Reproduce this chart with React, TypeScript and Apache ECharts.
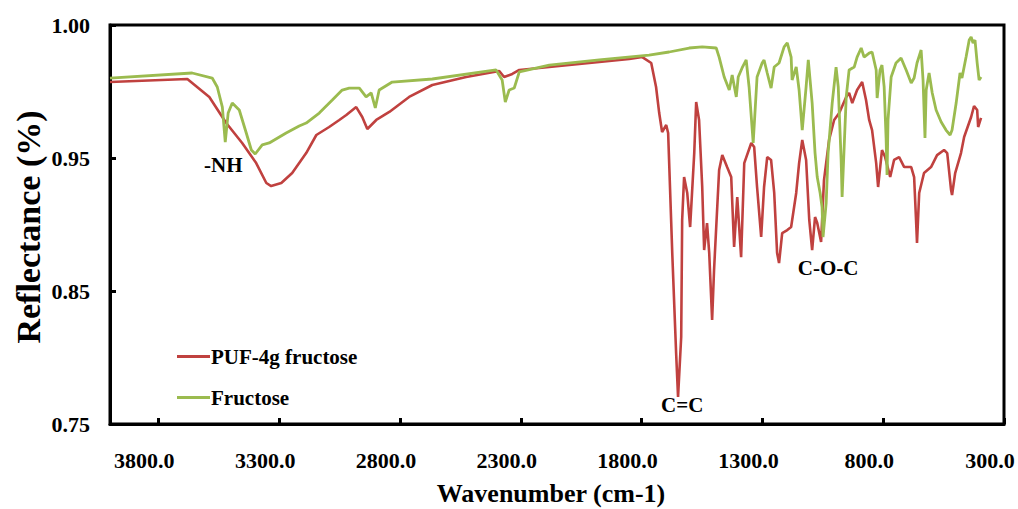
import React, { useEffect, useRef } from "react";
import * as echarts from "echarts";

const X_TICKS = [3800, 3300, 2800, 2300, 1800, 1300, 800, 300];
const Y_TICK_LABELS = ["0.75", "0.85", "0.95", "1.00"];
const SERIES_NAMES = ["PUF-4g fructose", "Fructose"];
const COLORS = ["#C0413F", "#9BBB4F"];

const PUF_DATA: [number, number][] = [
  [4000, 1.0071], [3680, 1.0094], [3589, 0.9959], [3519, 0.9763], [3453, 0.9613], [3395, 0.9462], [3353, 0.9312], [3333, 0.9289], [3291, 0.9312], [3246, 0.9387], [3188, 0.9537], [3146, 0.9673], [3093, 0.9733], [3051, 0.9786], [3022, 0.9823], [2981, 0.9883], [2956, 0.9808], [2935, 0.9718], [2898, 0.9786], [2844, 0.9846], [2762, 0.9959], [2666, 1.0049], [2526, 1.0109], [2389, 1.0154], [2369, 1.0109], [2335, 1.0132], [2306, 1.0162], [2182, 1.0184], [1975, 1.0222], [1851, 1.0244], [1797, 1.0259], [1760, 1.0214], [1740, 1.0034], [1727, 0.9838], [1715, 0.9695], [1698, 0.9748], [1690, 0.9688], [1673, 0.8785], [1657, 0.8034], [1649, 0.7703], [1636, 0.8154], [1632, 0.9034], [1624, 0.9357], [1611, 0.9237], [1599, 0.8981], [1582, 0.9537], [1574, 0.9921], [1562, 0.9786], [1549, 0.9282], [1541, 0.8808], [1529, 0.9011], [1520, 0.8785], [1508, 0.8282], [1500, 0.8658], [1479, 0.941], [1466, 0.9522], [1446, 0.9432], [1429, 0.9357], [1417, 0.8831], [1404, 0.9207], [1388, 0.8755], [1375, 0.9462], [1346, 0.9613], [1334, 0.9583], [1322, 0.9282], [1305, 0.8906], [1293, 0.9282], [1280, 0.9507], [1264, 0.9485], [1251, 0.9237], [1239, 0.8785], [1231, 0.871], [1218, 0.8936], [1197, 0.8958], [1181, 0.8981], [1160, 0.9237], [1148, 0.9462], [1135, 0.9635], [1119, 0.9485], [1106, 0.9034], [1094, 0.8808], [1082, 0.9056], [1073, 0.9011], [1057, 0.8868], [1045, 0.9334], [1024, 0.9635], [1003, 0.9786], [982, 0.9838], [953, 0.9959], [941, 0.9989], [928, 0.9913], [908, 1.0011], [887, 1.0071], [871, 0.9936], [858, 0.9786], [846, 0.971], [829, 0.9462], [821, 0.9282], [805, 0.956], [792, 0.9507], [771, 0.9357], [755, 0.9485], [734, 0.9507], [713, 0.9432], [684, 0.9432], [672, 0.9357], [664, 0.9034], [660, 0.8861], [651, 0.9237], [631, 0.9387], [602, 0.9432], [577, 0.9522], [548, 0.956], [535, 0.9537], [519, 0.9259], [515, 0.9222], [502, 0.9387], [478, 0.9537], [465, 0.9658], [436, 0.9808], [424, 0.9891], [411, 0.9861], [407, 0.9733], [395, 0.9801],
];

const FRUCTOSE_DATA: [number, number][] = [
  [4000, 1.0101], [3660, 1.0139], [3577, 1.0101], [3556, 1.0034], [3535, 0.9883], [3523, 0.962], [3511, 0.9838], [3494, 0.9913], [3465, 0.9861], [3436, 0.9688], [3415, 0.956], [3399, 0.953], [3370, 0.9598], [3341, 0.9613], [3271, 0.9688], [3217, 0.9741], [3188, 0.9763], [3134, 0.9838], [3080, 0.9936], [3039, 1.0011], [3010, 1.0026], [2968, 1.0026], [2940, 0.9959], [2919, 0.9989], [2902, 0.9876], [2886, 1.0011], [2832, 1.0071], [2666, 1.0094], [2402, 1.0162], [2377, 1.0086], [2364, 0.9921], [2348, 1.0011], [2327, 1.0026], [2306, 1.0147], [2182, 1.0199], [1975, 1.0237], [1769, 1.0274], [1686, 1.0297], [1603, 1.0327], [1549, 1.0335], [1491, 1.0327], [1479, 1.0259], [1458, 1.0109], [1437, 1.0011], [1425, 1.0124], [1408, 0.9959], [1400, 1.0109], [1384, 1.0177], [1367, 1.0237], [1355, 1.0034], [1338, 0.9613], [1322, 1.0109], [1301, 1.0214], [1293, 1.0237], [1280, 1.0139], [1264, 1.0026], [1251, 1.0184], [1231, 1.0214], [1210, 1.0335], [1197, 1.0365], [1181, 1.0259], [1177, 1.0086], [1160, 1.0184], [1148, 1.0011], [1135, 0.971], [1119, 1.0034], [1110, 1.0237], [1094, 0.9913], [1082, 0.9537], [1073, 0.9357], [1061, 0.9237], [1053, 0.9131], [1049, 0.8906], [1036, 0.9161], [1028, 0.9537], [1011, 0.9913], [995, 1.0184], [986, 1.0034], [974, 0.9485], [970, 0.9207], [953, 0.9959], [941, 1.0162], [920, 1.0184], [908, 1.0259], [891, 1.0327], [879, 1.0259], [858, 1.0289], [846, 1.0297], [829, 1.0162], [825, 0.9951], [813, 1.0162], [805, 1.0199], [796, 1.0034], [788, 0.965], [784, 0.9372], [780, 0.9786], [767, 1.0109], [747, 1.0214], [726, 1.0252], [705, 1.0162], [684, 1.0064], [672, 1.0101], [660, 1.0214], [643, 1.0312], [635, 1.0086], [627, 0.965], [622, 1.0011], [610, 1.0139], [597, 0.9989], [581, 0.9861], [560, 0.9771], [540, 0.971], [523, 0.9673], [515, 0.971], [498, 0.9913], [482, 1.0139], [474, 1.0101], [457, 1.0259], [444, 1.0387], [436, 1.041], [428, 1.0365], [420, 1.0387], [411, 1.0214], [403, 1.0086], [395, 1.0109],
];

const ANNOTATIONS: { text: string; coord: [number, number] }[] = [
  { text: "-NH", coord: [3531, 0.9447] },
  { text: "C=C", coord: [1632, 0.7643] },
  { text: "C-O-C", coord: [1028, 0.8673] },
];

const FONT = "Liberation Serif";

export default function App() {
  const ref = useRef<HTMLDivElement>(null);
  useEffect(() => {
    document.body.style.margin = "0";
    if (!ref.current) return;
    const chart = echarts.init(ref.current, undefined, { renderer: "svg" });
    const labelStyle = { fontFamily: FONT, fontWeight: "bold" as const, color: "#000" };
    chart.setOption({
      animation: false,
      backgroundColor: "#fff",
      grid: { left: 110, right: 14, top: 25, bottom: 85, show: true, borderColor: "#000", borderWidth: 3 },
      legend: {
        orient: "vertical",
        left: 172,
        top: 341,
        icon: "rect",
        itemWidth: 33,
        itemHeight: 3,
        itemGap: 20,
        textStyle: { ...labelStyle, fontSize: 21, lineHeight: 21, padding: [0, 0, 0, -4] },
        data: SERIES_NAMES,
      },
      xAxis: {
        type: "value",
        inverse: true,
        min: 300,
        max: 4000,
        interval: 500,
        axisLine: { show: true, lineStyle: { color: "#000", width: 3 } },
        axisTick: { show: true, inside: true, length: 6, lineStyle: { color: "#000", width: 3 } },
        splitLine: { show: false },
        axisLabel: {
          ...labelStyle,
          fontSize: 22,
          margin: 25,
          padding: [0, 28, 0, 0],
          formatter: (v: number) => (X_TICKS.includes(Math.round(v)) ? Math.round(v).toFixed(1) : ""),
        },
      },
      yAxis: {
        type: "value",
        min: 0.75,
        max: 1.05,
        interval: 0.1,
        axisLine: { show: true, lineStyle: { color: "#000", width: 3 } },
        axisTick: { show: true, inside: true, length: 6, lineStyle: { color: "#000", width: 3 } },
        splitLine: { show: false },
        axisLabel: {
          ...labelStyle,
          fontSize: 22,
          margin: 20,
          formatter: (_v: number, i: number) => Y_TICK_LABELS[i] ?? "",
        },
      },
      graphic: [
        {
          type: "text",
          x: 551,
          y: 493,
          style: { text: "Wavenumber (cm-1)", fontFamily: FONT, fontWeight: "bold", fontSize: 26, fill: "#000", textAlign: "center", textVerticalAlign: "middle" },
        },
        {
          type: "text",
          x: 28,
          y: 227,
          rotation: Math.PI / 2,
          style: { text: "Reflectance (%)", fontFamily: FONT, fontWeight: "bold", fontSize: 34, fill: "#000", textAlign: "center", textVerticalAlign: "middle" },
        },
      ],
      series: [
        {
          name: SERIES_NAMES[0],
          type: "line",
          data: PUF_DATA,
          symbol: "none",
          lineStyle: { color: COLORS[0], width: 2.6 },
          itemStyle: { color: COLORS[0] },
          markPoint: {
            symbol: "rect",
            symbolSize: 1,
            itemStyle: { color: "rgba(0,0,0,0)" },
            label: { show: true, position: "inside", ...labelStyle, fontSize: 21, formatter: (p: any) => p.name },
            data: ANNOTATIONS.map((a) => ({ name: a.text, coord: a.coord })),
          },
        },
        {
          name: SERIES_NAMES[1],
          type: "line",
          data: FRUCTOSE_DATA,
          symbol: "none",
          lineStyle: { color: COLORS[1], width: 2.8 },
          itemStyle: { color: COLORS[1] },
        },
      ],
    });
    return () => chart.dispose();
  }, []);
  return <div ref={ref} style={{ width: 1018, height: 509 }} />;
}
